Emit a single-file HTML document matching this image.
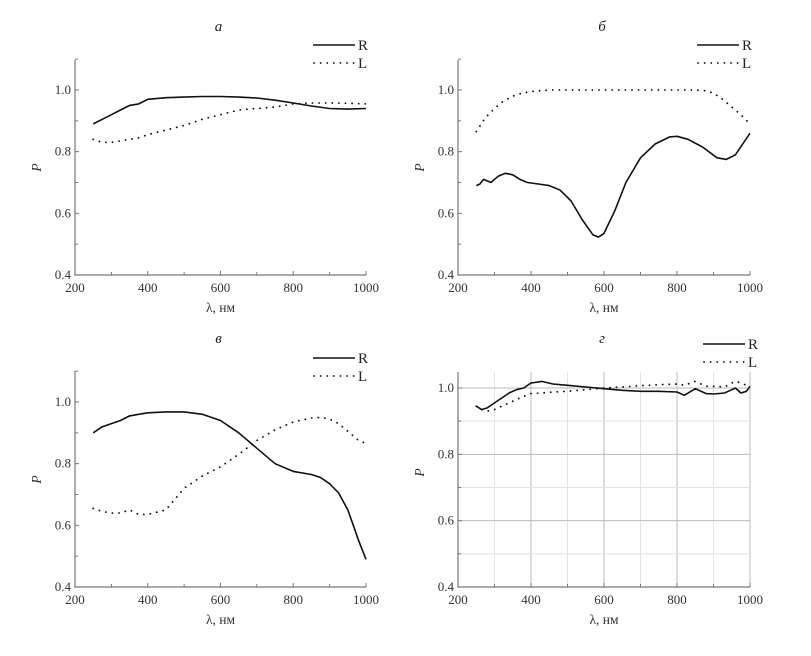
<!DOCTYPE html>
<html><head><meta charset="utf-8"><style>
html,body{margin:0;padding:0;background:#fff;}
svg{display:block;font-family:"Liberation Serif","DejaVu Serif",serif;}
</style></head><body>
<svg id="fig" width="811" height="656" viewBox="0 0 811 656"></svg>
<script>
const xTicks=[200,400,600,800,1000];
const yTicks=[0.4,0.6,0.8,1.0];
const yTickLabels=["0.4","0.6","0.8","1.0"];
const xA=[250,275,300,325,350,375,400,450,500,550,600,650,700,750,800,850,900,950,1000];
const aR=[0.89,0.905,0.92,0.935,0.95,0.955,0.97,0.975,0.977,0.979,0.979,0.977,0.974,0.967,0.958,0.948,0.94,0.938,0.94];
const aL=[0.84,0.83,0.83,0.835,0.84,0.845,0.855,0.87,0.885,0.905,0.92,0.935,0.94,0.945,0.955,0.958,0.958,0.957,0.955];
const xB=[250,260,270,290,310,330,350,370,390,420,450,480,510,540,570,585,600,630,660,700,740,780,800,830,870,910,935,960,1000];
const bR=[0.69,0.695,0.71,0.70,0.72,0.73,0.725,0.71,0.70,0.695,0.69,0.675,0.64,0.58,0.53,0.523,0.535,0.61,0.70,0.78,0.825,0.848,0.85,0.84,0.815,0.78,0.775,0.79,0.86];
const xBL=[250,275,300,325,350,375,400,450,500,600,700,800,850,875,900,925,950,975,1000];
const bL=[0.865,0.91,0.94,0.965,0.98,0.99,0.995,1.0,1.0,1.0,1.0,1.0,1.0,0.998,0.99,0.97,0.945,0.92,0.89];
const xC=[250,275,300,325,350,375,400,450,500,550,600,650,700,750,800,850,875,900,925,950,965,980,1000];
const cR=[0.90,0.92,0.93,0.94,0.955,0.96,0.965,0.968,0.968,0.96,0.94,0.90,0.85,0.80,0.775,0.765,0.755,0.735,0.705,0.65,0.60,0.55,0.49];
const cL=[0.655,0.645,0.64,0.64,0.65,0.635,0.635,0.65,0.72,0.76,0.79,0.83,0.875,0.91,0.935,0.948,0.95,0.945,0.93,0.905,0.89,0.875,0.865];
const xD=[250,265,280,300,320,340,360,380,400,430,460,500,550,600,650,700,750,800,820,850,880,900,930,950,960,975,990,1000];
const dR=[0.945,0.935,0.94,0.955,0.97,0.985,0.995,1.0,1.015,1.02,1.012,1.008,1.003,0.998,0.993,0.99,0.99,0.988,0.978,0.998,0.983,0.982,0.985,0.995,1.0,0.985,0.99,1.005];
const dL=[0.945,0.935,0.93,0.935,0.945,0.955,0.965,0.975,0.983,0.985,0.988,0.99,0.995,1.0,1.003,1.007,1.01,1.012,1.008,1.02,1.005,1.005,1.003,1.015,1.02,1.015,1.008,1.012];

const svg=document.getElementById('fig');
const NS='http://www.w3.org/2000/svg';
function mk(tag,attrs,parent){const e=document.createElementNS(NS,tag);for(const k in attrs)e.setAttribute(k,attrs[k]);(parent||svg).appendChild(e);return e;}

function panel(p){
  const g=mk('g',{});
  
  
  const sx=v=>p.x0+(v-200)/800*(p.x1-p.x0);
  const sy=v=>p.y04+(v-0.4)/0.6*(p.y10-p.y04);
  if(p.grid){
    for(let v=300;v<=1000;v+=100){const l=mk('line',{x1:sx(v),x2:sx(v),y1:p.top,y2:p.y04,stroke:v%200===0?'#bbb':'#e2e2e2','stroke-width':1},g);
      }
    for(let v=0.5;v<=1.01;v+=0.1){const major=Math.abs(Math.round(v*10)%2)===0;const l=mk('line',{x1:p.x0,x2:p.x1,y1:sy(v),y2:sy(v),stroke:major?'#bbb':'#e2e2e2','stroke-width':1},g);
      }
  }
  const ax=mk('path',{d:`M${p.x0},${p.top}V${p.y04}H${p.x1}`,fill:'none',stroke:'#777','stroke-width':1.2},g);
  
  for(let v=300;v<=1000;v+=100){mk('line',{x1:sx(v),x2:sx(v),y1:p.y04,y2:p.y04-(v%200===0?4:3),stroke:'#777'},g);}
  for(let v=0.5;v<=p.ymax+0.001;v+=0.1){mk('line',{x1:p.x0,x2:p.x0+(Math.round(v*10)%2===0?4:3),y1:sy(v),y2:sy(v),stroke:'#777'},g);}
  xTicks.forEach(v=>{const t=mk('text',{x:sx(v),y:p.y04+17,'text-anchor':'middle','font-size':13,fill:'#333'},g);t.textContent=v;
    });
  yTicks.forEach((v,i)=>{const t=mk('text',{x:p.x0-4,y:sy(v)+4,'text-anchor':'end','font-size':13,fill:'#333'},g);t.textContent=yTickLabels[i];
    });
  const xl=mk('text',{x:(p.x0+p.x1)/2,y:p.y04+37,'text-anchor':'middle','font-size':13.5,fill:'#333'},g);xl.textContent='λ, нм';
  
  const yl=mk('text',{x:0,y:0,'text-anchor':'middle','font-size':13.5,'font-style':'italic',fill:'#333',transform:`translate(${p.x0-34},${(p.y04+p.y10)/2-15}) rotate(-90)`},g);yl.textContent='P';
  
  const ti=mk('text',{x:(p.x0+p.x1)/2-2,y:p.titleY,'text-anchor':'middle','font-size':15,'font-style':'italic',fill:'#222'},g);ti.textContent=p.title;
  
  const path=(xs,ys)=>xs.map((x,i)=>(i?'L':'M')+sx(x).toFixed(1)+','+sy(ys[i]).toFixed(1)).join('');
  const r=mk('path',{d:path(p.xR,p.R),fill:'none',stroke:'#111','stroke-width':1.6,'stroke-linejoin':'round'},g);
  
  const l=mk('path',{d:path(p.xL,p.L),fill:'none',stroke:'#111','stroke-width':1.8,'stroke-dasharray':'0.1 6.5','stroke-linecap':'round'},g);
  
  const lg=mk('g',{},g);
  mk('line',{x1:p.lx,x2:p.lx+42,y1:p.ly,y2:p.ly,stroke:'#111','stroke-width':1.6},lg);
  mk('line',{x1:p.lx+1,x2:p.lx+42,y1:p.ly+18,y2:p.ly+18,stroke:'#111','stroke-width':1.8,'stroke-dasharray':'0.1 6.5','stroke-linecap':'round'},lg);
  const t1=mk('text',{x:p.lx+45,y:p.ly+5,'font-size':15,fill:'#222'},lg);t1.textContent='R';
  
  const t2=mk('text',{x:p.lx+45,y:p.ly+23,'font-size':15,fill:'#222'},lg);t2.textContent='L';
  
}
panel({name:'panel-a',title:'а',x0:75,x1:366,y04:275,y10:90,top:60,ymax:1.1,titleY:31,lx:313,ly:45,xR:xA,R:aR,xL:xA,L:aL});
panel({name:'panel-b',title:'б',x0:458,x1:750,y04:275,y10:90,top:60,ymax:1.1,titleY:31,lx:697,ly:45,xR:xB,R:bR,xL:xBL,L:bL});
panel({name:'panel-v',title:'в',x0:75,x1:366,y04:587,y10:402,top:371,ymax:1.1,titleY:343,lx:313,ly:358,xR:xC,R:cR,xL:xC,L:cL});
panel({name:'panel-g',title:'г',x0:458,x1:750,y04:587,y10:388,top:372,ymax:1.0,titleY:343,lx:703,ly:344,grid:true,xR:xD,R:dR,xL:xD,L:dL});
</script>
</body></html>
